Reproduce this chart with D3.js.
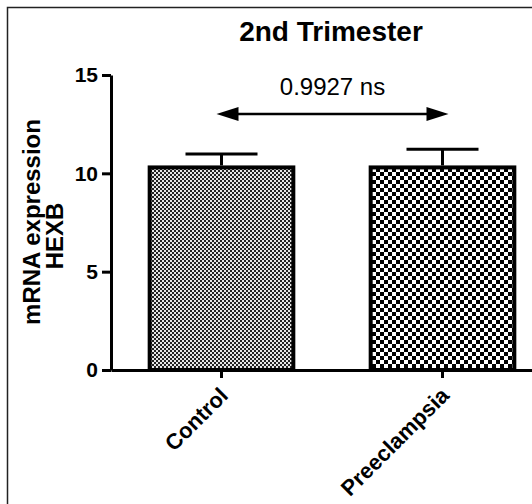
<!DOCTYPE html>
<html>
<head>
<meta charset="utf-8">
<script src="https://cdn.jsdelivr.net/npm/d3@7"></script>
<style>
  body { margin: 0; background: #fff; }
  svg { display: block; font-family: "Liberation Sans", Arial, sans-serif; }
</style>
</head>
<body>
<div id="chart"></div>
<script>
// data
const groups = ["Control", "Preeclampsia"];
const means = [10.3, 10.3];
const sems = [0.68, 0.92];
const yTicks = [0, 5, 10, 15];
const pLabel = "0.9927 ns";

const W = 532, H = 504;
const svg = d3.select("#chart").append("svg")
  .attr("width", W)
  .attr("height", H);

// patterns
const defs = svg.append("defs");
const p1 = defs.append("pattern")
  .attr("id", "fine").attr("patternUnits", "userSpaceOnUse")
  .attr("width", 4).attr("height", 4);
p1.append("rect").attr("width", 4).attr("height", 4).attr("fill", "#e6e6e6");
p1.append("rect").attr("width", 2).attr("height", 2).attr("fill", "#222");
p1.append("rect").attr("x", 2).attr("y", 2).attr("width", 2).attr("height", 2).attr("fill", "#222");

const p2 = defs.append("pattern")
  .attr("id", "coarse").attr("patternUnits", "userSpaceOnUse")
  .attr("width", 8).attr("height", 8);
p2.append("rect").attr("width", 8).attr("height", 8).attr("fill", "#fff");
p2.append("rect").attr("width", 4).attr("height", 4).attr("fill", "#000");
p2.append("rect").attr("x", 4).attr("y", 4).attr("width", 4).attr("height", 4).attr("fill", "#000");

const fills = ["url(#fine)", "url(#coarse)"];

// frame
svg.append("rect")
  .attr("x", 7.5).attr("y", 7.5)
  .attr("width", W).attr("height", H)
  .attr("fill", "none").attr("stroke", "#222").attr("stroke-width", 1.5);

// scales
const x = d3.scaleBand()
  .domain(groups)
  .range([111, 553])
  .paddingInner(0.35)
  .paddingOuter(0.175);

const y = d3.scaleLinear()
  .domain([0, 15])
  .range([370, 75]);

// bars
svg.selectAll(".bar")
  .data(groups)
  .enter()
  .append("rect")
  .attr("class", "bar")
  .attr("x", d => x(d))
  .attr("y", (d, i) => y(means[i]))
  .attr("width", x.bandwidth())
  .attr("height", (d, i) => y(0) - y(means[i]))
  .attr("fill", (d, i) => fills[i])
  .attr("stroke", "#000")
  .attr("stroke-width", 4);

// error bars (upper only)
const cap = 36;
svg.selectAll(".err")
  .data(groups)
  .enter()
  .append("line")
  .attr("x1", d => x(d) + x.bandwidth() / 2)
  .attr("x2", d => x(d) + x.bandwidth() / 2)
  .attr("y1", (d, i) => y(means[i]) - 2)
  .attr("y2", (d, i) => y(means[i] + sems[i]))
  .attr("stroke", "#000").attr("stroke-width", 3);

svg.selectAll(".cap")
  .data(groups)
  .enter()
  .append("line")
  .attr("x1", d => x(d) + x.bandwidth() / 2 - cap)
  .attr("x2", d => x(d) + x.bandwidth() / 2 + cap)
  .attr("y1", (d, i) => y(means[i] + sems[i]))
  .attr("y2", (d, i) => y(means[i] + sems[i]))
  .attr("stroke", "#000").attr("stroke-width", 3);

// axes
const yAxis = svg.append("g")
  .attr("transform", "translate(111,0)")
  .call(d3.axisLeft(y).tickValues(yTicks).tickSize(9).tickSizeOuter(0).tickPadding(4));

const xAxis = svg.append("g")
  .attr("transform", "translate(0,370)")
  .call(d3.axisBottom(x).tickSize(8).tickSizeOuter(0).tickFormat(""));

[yAxis, xAxis].forEach(g => {
  g.selectAll("path, line").attr("stroke", "#000").attr("stroke-width", 3);
});
yAxis.selectAll("text")
  .attr("fill", "#000")
  .attr("font-size", 21).attr("font-weight", "bold")
  .attr("font-family", "Liberation Sans, Arial, sans-serif");

// x labels, rotated
svg.selectAll(".xlab")
  .data(groups)
  .enter()
  .append("text")
  .attr("class", "xlab")
  .attr("transform", d => `translate(${x(d) + x.bandwidth() / 2 - 3},${386}) rotate(-45)`)
  .attr("text-anchor", "end")
  .attr("dy", "0.7em")
  .attr("font-size", 22).attr("font-weight", "bold")
  .text(d => d);

// y label
const yl = svg.append("text")
  .attr("transform", "translate(40,222) rotate(-90)")
  .attr("text-anchor", "middle")
  .attr("font-size", 24).attr("font-weight", "bold");
yl.append("tspan").attr("x", 0).attr("y", 0).text("mRNA expression");
yl.append("tspan").attr("x", -14).attr("y", 23).text("HEXB");

// title
svg.append("text")
  .attr("x", 331).attr("y", 41)
  .attr("text-anchor", "middle")
  .attr("font-size", 28).attr("font-weight", "bold")
  .text("2nd Trimester");

// significance bracket
const ax1 = x(groups[0]) + x.bandwidth() / 2 - 5;
const ax2 = x(groups[1]) + x.bandwidth() / 2 + 6;
const ay = 114;
svg.append("line")
  .attr("x1", ax1 + 15).attr("x2", ax2 - 15)
  .attr("y1", ay).attr("y2", ay)
  .attr("stroke", "#000").attr("stroke-width", 2.5);
svg.append("path")
  .attr("d", `M${ax1},${ay} L${ax1 + 22},${ay - 7} L${ax1 + 22},${ay + 7} Z`)
  .attr("fill", "#000");
svg.append("path")
  .attr("d", `M${ax2},${ay} L${ax2 - 22},${ay - 7} L${ax2 - 22},${ay + 7} Z`)
  .attr("fill", "#000");

svg.append("text")
  .attr("x", (ax1 + ax2) / 2).attr("y", 95)
  .attr("text-anchor", "middle")
  .attr("font-size", 24)
  .text(pLabel);
</script>
</body>
</html>
